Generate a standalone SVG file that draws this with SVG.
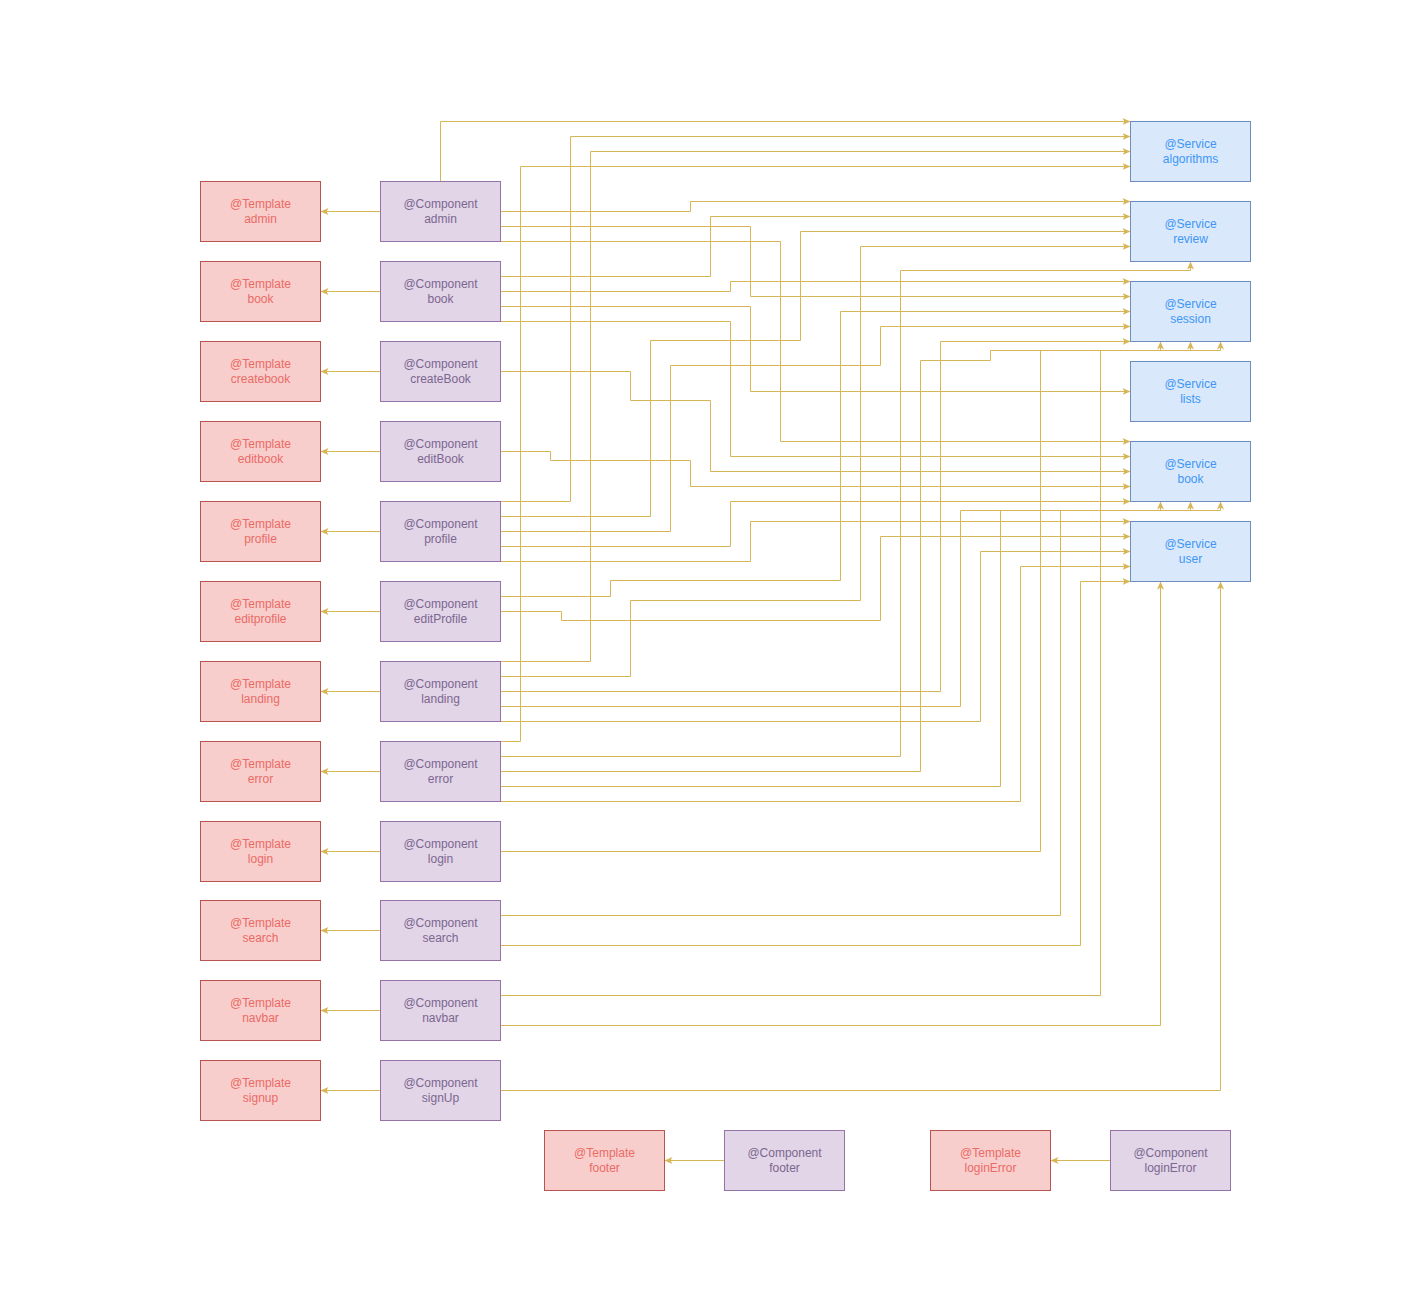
<svg xmlns="http://www.w3.org/2000/svg" width="1402" height="1300" viewBox="0 0 1402 1300">
<style>
text{font-family:"Liberation Sans",Arial,sans-serif;font-size:12px;text-anchor:middle}
.t rect{fill:#f8cecc;stroke:#b85450;stroke-width:1}
.t text{fill:#ea6b66}
.c rect{fill:#e1d5e7;stroke:#9673a6;stroke-width:1}
.c text{fill:#7d6690}
.s rect{fill:#dae8fc;stroke:#6c8ebf;stroke-width:1}
.s text{fill:#3d97f5}
.e path{fill:none;stroke:#d6b656;stroke-width:1;marker-end:url(#ah)}
</style>
<defs>
<marker id="ah" viewBox="0 0 8 8" refX="8" refY="4" markerWidth="8" markerHeight="8" markerUnits="userSpaceOnUse" orient="auto">
<path d="M0,0.5 L8,4 L0,7.5 L2,4 Z" fill="#d6b656" stroke="none"/>
</marker>
</defs>
<rect width="1402" height="1300" fill="#ffffff"/>
<g transform="translate(0.5,0.5)">
<g id="connectors" class="e">
<path d="M380,211H320"/>
<path d="M380,291H320"/>
<path d="M380,371H320"/>
<path d="M380,451H320"/>
<path d="M380,531H320"/>
<path d="M380,611H320"/>
<path d="M380,691H320"/>
<path d="M380,771H320"/>
<path d="M380,851H320"/>
<path d="M380,930H320"/>
<path d="M380,1010H320"/>
<path d="M380,1090H320"/>
<path d="M724,1160H664"/>
<path d="M1110,1160H1050"/>
<path d="M440,181V121H1130"/>
<path d="M500,211H690V201H1130"/>
<path d="M500,226H750V296H1130"/>
<path d="M500,241H780V441H1130"/>
<path d="M500,276H710V216H1130"/>
<path d="M500,291H730V281H1130"/>
<path d="M500,306H750V391H1130"/>
<path d="M500,321H730V456H1130"/>
<path d="M500,371H630V400H710V471H1130"/>
<path d="M500,451H550V460H690V486H1130"/>
<path d="M500,501H570V136H1130"/>
<path d="M500,516H650V340H800V231H1130"/>
<path d="M500,531H670V365H880V326H1130"/>
<path d="M500,546H730V501H1130"/>
<path d="M500,561H750V521H1130"/>
<path d="M500,596H610V580H840V311H1130"/>
<path d="M500,611H561V620H880V536H1130"/>
<path d="M500,661H590V151H1130"/>
<path d="M500,676H630V600H860V246H1130"/>
<path d="M500,691H940V341H1130"/>
<path d="M500,706H960V510H1160V501"/>
<path d="M500,721H980V551H1130"/>
<path d="M500,741H520V166H1130"/>
<path d="M500,756H900V270H1190V261"/>
<path d="M500,771H920V360H990V350H1160V341"/>
<path d="M500,786H1000V510H1190V501"/>
<path d="M500,801H1020V566H1130"/>
<path d="M500,851H1040V350H1190V341"/>
<path d="M500,915H1060V510H1220V501"/>
<path d="M500,945H1080V581H1130"/>
<path d="M500,995H1100V350H1220V341"/>
<path d="M500,1025H1160V581"/>
<path d="M500,1090H1220V581"/>
</g>
<g id="tpl-admin" class="t"><rect x="200" y="181" width="120" height="60"/><text x="260" y="207">@Template</text><text x="260" y="222">admin</text></g>
<g id="tpl-book" class="t"><rect x="200" y="261" width="120" height="60"/><text x="260" y="287">@Template</text><text x="260" y="302">book</text></g>
<g id="tpl-createbook" class="t"><rect x="200" y="341" width="120" height="60"/><text x="260" y="367">@Template</text><text x="260" y="382">createbook</text></g>
<g id="tpl-editbook" class="t"><rect x="200" y="421" width="120" height="60"/><text x="260" y="447">@Template</text><text x="260" y="462">editbook</text></g>
<g id="tpl-profile" class="t"><rect x="200" y="501" width="120" height="60"/><text x="260" y="527">@Template</text><text x="260" y="542">profile</text></g>
<g id="tpl-editprofile" class="t"><rect x="200" y="581" width="120" height="60"/><text x="260" y="607">@Template</text><text x="260" y="622">editprofile</text></g>
<g id="tpl-landing" class="t"><rect x="200" y="661" width="120" height="60"/><text x="260" y="687">@Template</text><text x="260" y="702">landing</text></g>
<g id="tpl-error" class="t"><rect x="200" y="741" width="120" height="60"/><text x="260" y="767">@Template</text><text x="260" y="782">error</text></g>
<g id="tpl-login" class="t"><rect x="200" y="821" width="120" height="60"/><text x="260" y="847">@Template</text><text x="260" y="862">login</text></g>
<g id="tpl-search" class="t"><rect x="200" y="900" width="120" height="60"/><text x="260" y="926">@Template</text><text x="260" y="941">search</text></g>
<g id="tpl-navbar" class="t"><rect x="200" y="980" width="120" height="60"/><text x="260" y="1006">@Template</text><text x="260" y="1021">navbar</text></g>
<g id="tpl-signup" class="t"><rect x="200" y="1060" width="120" height="60"/><text x="260" y="1086">@Template</text><text x="260" y="1101">signup</text></g>
<g id="tpl-footer" class="t"><rect x="544" y="1130" width="120" height="60"/><text x="604" y="1156">@Template</text><text x="604" y="1171">footer</text></g>
<g id="tpl-loginError" class="t"><rect x="930" y="1130" width="120" height="60"/><text x="990" y="1156">@Template</text><text x="990" y="1171">loginError</text></g>
<g id="cmp-admin" class="c"><rect x="380" y="181" width="120" height="60"/><text x="440" y="207">@Component</text><text x="440" y="222">admin</text></g>
<g id="cmp-book" class="c"><rect x="380" y="261" width="120" height="60"/><text x="440" y="287">@Component</text><text x="440" y="302">book</text></g>
<g id="cmp-createBook" class="c"><rect x="380" y="341" width="120" height="60"/><text x="440" y="367">@Component</text><text x="440" y="382">createBook</text></g>
<g id="cmp-editBook" class="c"><rect x="380" y="421" width="120" height="60"/><text x="440" y="447">@Component</text><text x="440" y="462">editBook</text></g>
<g id="cmp-profile" class="c"><rect x="380" y="501" width="120" height="60"/><text x="440" y="527">@Component</text><text x="440" y="542">profile</text></g>
<g id="cmp-editProfile" class="c"><rect x="380" y="581" width="120" height="60"/><text x="440" y="607">@Component</text><text x="440" y="622">editProfile</text></g>
<g id="cmp-landing" class="c"><rect x="380" y="661" width="120" height="60"/><text x="440" y="687">@Component</text><text x="440" y="702">landing</text></g>
<g id="cmp-error" class="c"><rect x="380" y="741" width="120" height="60"/><text x="440" y="767">@Component</text><text x="440" y="782">error</text></g>
<g id="cmp-login" class="c"><rect x="380" y="821" width="120" height="60"/><text x="440" y="847">@Component</text><text x="440" y="862">login</text></g>
<g id="cmp-search" class="c"><rect x="380" y="900" width="120" height="60"/><text x="440" y="926">@Component</text><text x="440" y="941">search</text></g>
<g id="cmp-navbar" class="c"><rect x="380" y="980" width="120" height="60"/><text x="440" y="1006">@Component</text><text x="440" y="1021">navbar</text></g>
<g id="cmp-signUp" class="c"><rect x="380" y="1060" width="120" height="60"/><text x="440" y="1086">@Component</text><text x="440" y="1101">signUp</text></g>
<g id="cmp-footer" class="c"><rect x="724" y="1130" width="120" height="60"/><text x="784" y="1156">@Component</text><text x="784" y="1171">footer</text></g>
<g id="cmp-loginError" class="c"><rect x="1110" y="1130" width="120" height="60"/><text x="1170" y="1156">@Component</text><text x="1170" y="1171">loginError</text></g>
<g id="svc-algorithms" class="s"><rect x="1130" y="121" width="120" height="60"/><text x="1190" y="147">@Service</text><text x="1190" y="162">algorithms</text></g>
<g id="svc-review" class="s"><rect x="1130" y="201" width="120" height="60"/><text x="1190" y="227">@Service</text><text x="1190" y="242">review</text></g>
<g id="svc-session" class="s"><rect x="1130" y="281" width="120" height="60"/><text x="1190" y="307">@Service</text><text x="1190" y="322">session</text></g>
<g id="svc-lists" class="s"><rect x="1130" y="361" width="120" height="60"/><text x="1190" y="387">@Service</text><text x="1190" y="402">lists</text></g>
<g id="svc-book" class="s"><rect x="1130" y="441" width="120" height="60"/><text x="1190" y="467">@Service</text><text x="1190" y="482">book</text></g>
<g id="svc-user" class="s"><rect x="1130" y="521" width="120" height="60"/><text x="1190" y="547">@Service</text><text x="1190" y="562">user</text></g>
</g>
</svg>
